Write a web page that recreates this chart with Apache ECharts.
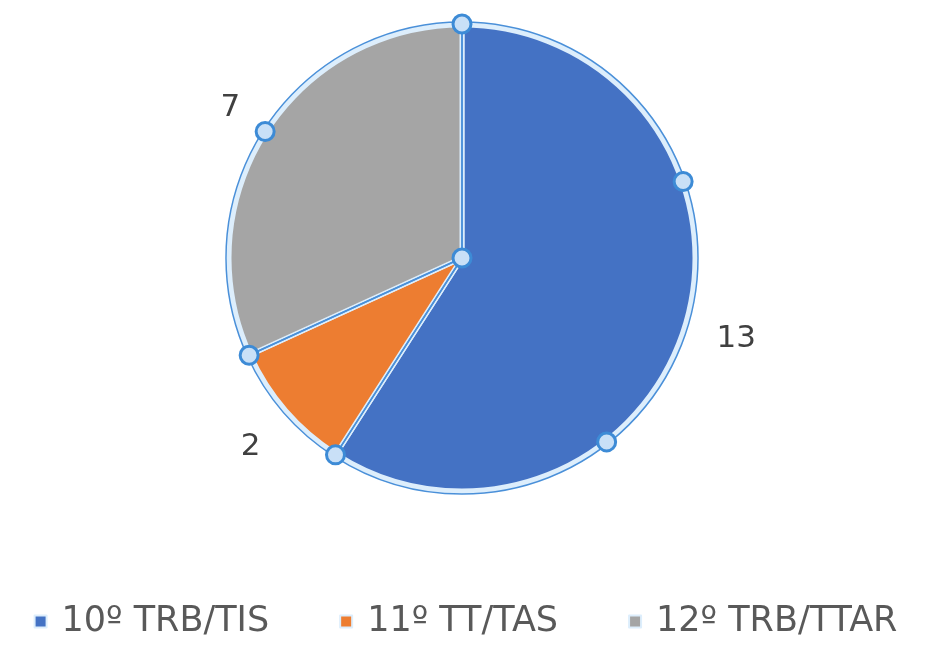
<!DOCTYPE html>
<html><head><meta charset="utf-8">
<script src="https://cdn.jsdelivr.net/npm/echarts@6/dist/echarts.min.js"></script>
<style>html,body{margin:0;padding:0;background:#fff}#c{width:931px;height:648px}</style>
</head><body><div id="c"></div>
<script>
var categories = ['10º TRB/TIS', '11º TT/TAS', '12º TRB/TTAR'];
var values = [13, 2, 7];
var colors = ['#4472c4', '#ed7d31', '#a5a5a5'];

var chart = echarts.init(document.getElementById('c'));
var cx = 462, cy = 258, R = 233;
var FONT = "'DejaVu Sans', 'Liberation Sans', sans-serif";
// small label nudges to mimic the spreadsheet's "best fit" placement
var labelNudge = [[0, 8], [0, 19], [2, -9]];

var data = categories.map(function (c, i) {
  return { name: c, value: values[i], itemStyle: { color: colors[i] },
    label: { offset: labelNudge[i] } };
});

// selection handles derived from data angles
var total = values.reduce(function (a, b) { return a + b; }, 0);
var handles = [[cx, cy]];
var acc = 0;
function pt(deg) { var a = deg * Math.PI / 180; return [cx + (R + 1) * Math.sin(a), cy - (R + 1) * Math.cos(a)]; }
values.forEach(function (v, i) {
  var s = acc / total * 360, e = (acc + v) / total * 360;
  handles.push(pt(s));
  if (i === 0) { handles.push(pt(s + (e - s) / 3)); handles.push(pt(s + 2 * (e - s) / 3)); }
  if (i === 2) { handles.push(pt((s + e) / 2)); }
  acc += v;
});
var graphics = handles.map(function (p) {
  return { type: 'circle', shape: { cx: p[0], cy: p[1], r: 9 }, z: 100,
    style: { fill: '#c9e0f7', stroke: '#3d8bd6', lineWidth: 3 } };
});

chart.setOption({
  animation: false,
  color: colors,
  legend: {
    bottom: 4, left: 'center',
    itemWidth: 12, itemHeight: 12, itemGap: 70,
    icon: 'rect',
    textStyle: { fontFamily: FONT, fontSize: 35, color: '#595959', padding: [0, 0, 0, 10] },
    data: categories
  },
  graphic: graphics,
  series: [{
    type: 'pie',
    center: [cx, cy], radius: R,
    startAngle: 90, clockwise: true,
    avoidLabelOverlap: false,
    itemStyle: { borderColor: '#ddeefc', borderWidth: 5 },
    label: { show: true, position: 'outside', formatter: '{c}', fontFamily: FONT,
      fontSize: 31, color: '#404040' },
    labelLine: { show: false, length: 27, length2: 0 },
    emphasis: { disabled: true },
    data: data
  }, {
    type: 'pie',
    center: [cx, cy], radius: R + 3,
    startAngle: 90, clockwise: true,
    silent: true, legendHoverLink: false,
    itemStyle: { color: 'rgba(0,0,0,0)', borderColor: '#4a90d9', borderWidth: 1.5 },
    label: { show: false }, labelLine: { show: false },
    data: values.map(function (v, i) { return { name: categories[i] + ' ', value: v }; })
  }]
});
</script></body></html>
